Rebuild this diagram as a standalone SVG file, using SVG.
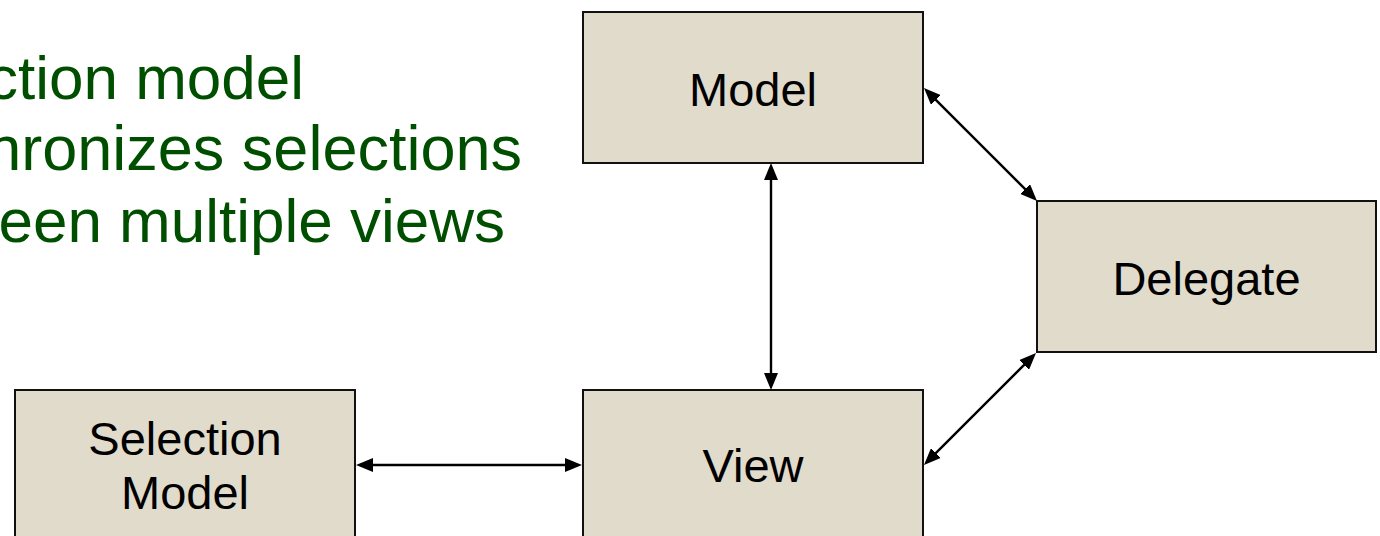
<svg xmlns="http://www.w3.org/2000/svg" width="1380" height="536" viewBox="0 0 1380 536">
  <style>
    .box { fill: #E0DBCB; stroke: #111111; stroke-width: 2; }
    .lbl { font-family: "Liberation Sans", Arial, sans-serif; font-size: 47px; fill: #000000; text-anchor: middle; }
    .note { font-family: "Liberation Sans", Arial, sans-serif; font-size: 62px; fill: #004F00; text-anchor: end; }
    .conn { fill: none; stroke: #000000; stroke-width: 2.4; marker-start: url(#arr); marker-end: url(#arr); }
  </style>
  <defs>
    <marker id="arr" markerUnits="userSpaceOnUse" markerWidth="17" markerHeight="14" refX="13" refY="7" orient="auto-start-reverse" viewBox="0 0 17 14">
      <path d="M0,0 L17,7 L0,14 z" fill="#000000"/>
    </marker>
  </defs>
  <rect width="1380" height="536" fill="#FFFFFF"/>
  <g id="note">
    <text class="note" x="304" y="98.5">ction model</text>
    <text class="note" x="522" y="170" style="font-size:63px">hronizes selections</text>
    <text class="note" x="505" y="241.7">een multiple views</text>
  </g>
  <g id="connectors">
    <path class="conn" d="M771,167 L771,386"/>
    <path class="conn" d="M926.8,90.8 L1034.2,198.2"/>
    <path class="conn" d="M1033.2,355.8 L926.8,462.2"/>
    <path class="conn" d="M360,465 L578,465"/>
  </g>
  <g id="model">
    <rect class="box" x="583" y="12" width="340" height="151"/>
    <text class="lbl" x="753" y="106">Model</text>
  </g>
  <g id="delegate">
    <rect class="box" x="1037" y="201" width="339" height="151"/>
    <text class="lbl" x="1206.5" y="295">Delegate</text>
  </g>
  <g id="view">
    <rect class="box" x="583" y="390" width="340" height="160"/>
    <text class="lbl" x="753" y="482">View</text>
  </g>
  <g id="selection-model">
    <rect class="box" x="15" y="390" width="340" height="160"/>
    <text class="lbl" x="185" y="455">Selection</text>
    <text class="lbl" x="185" y="508.5">Model</text>
  </g>
</svg>
